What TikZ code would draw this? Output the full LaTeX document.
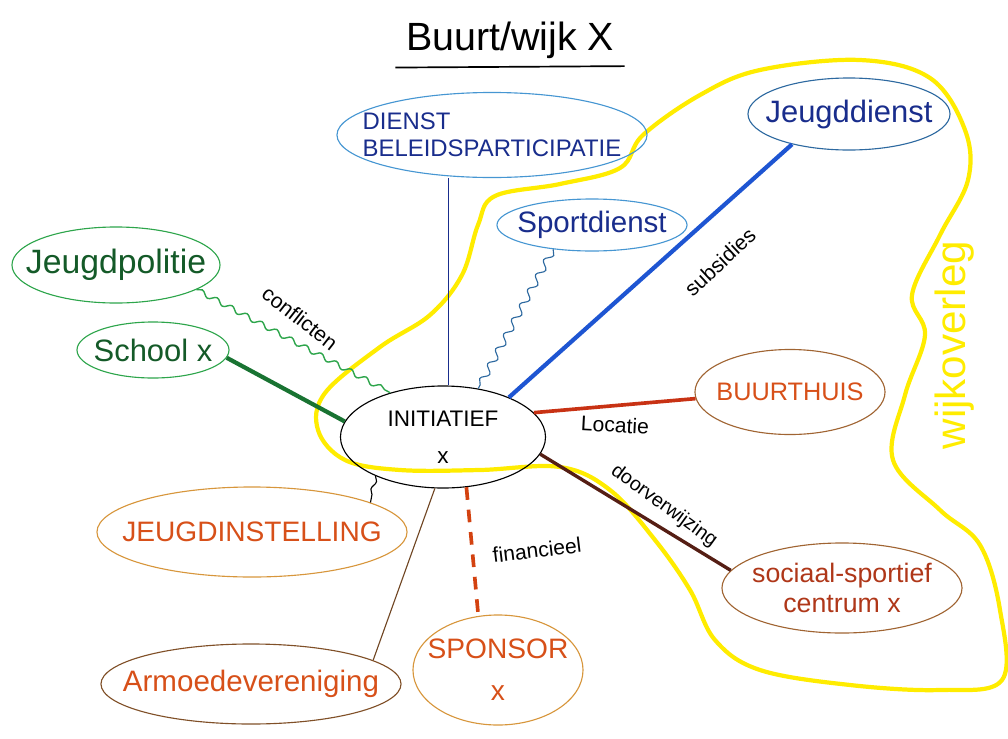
\documentclass[tikz,border=0pt]{standalone}
\usepackage{fontspec}
\setmainfont{Liberation Sans}
\usetikzlibrary{shapes.geometric,decorations.pathmorphing}
\definecolor{dblue}{RGB}{25,45,140}
\definecolor{lblue}{RGB}{70,150,210}
\definecolor{tblue}{RGB}{45,105,160}
\definecolor{bblue}{RGB}{30,85,210}
\definecolor{lgreen}{RGB}{45,165,75}
\definecolor{dgreen}{RGB}{20,90,40}
\definecolor{sgreen}{RGB}{25,115,50}
\definecolor{brownline}{RGB}{160,100,50}
\definecolor{orangetext}{RGB}{215,80,25}
\definecolor{rusttext}{RGB}{175,55,25}
\definecolor{ochre}{RGB}{215,150,60}
\definecolor{darkbrown}{RGB}{85,30,20}
\definecolor{redline}{RGB}{200,50,20}
\definecolor{wijkyellow}{RGB}{255,236,0}

\begin{document}
\begin{tikzpicture}[x=0.025cm,y=-0.025cm,
    bubble/.style={ellipse, draw, line width=0.8pt, inner xsep=-60pt, inner ysep=-20pt, align=center},
    lbl/.style={font=\fontsize{15}{17}\selectfont},
    wiggle/.style={decorate, decoration={snake, amplitude=#1, segment length=12pt}}]
	  \useasboundingbox (0,0) rectangle (1008,738);
	  % Wijk border
	  \draw [wijkyellow, line width=3pt] plot [smooth cycle, tension=0.6] coordinates {
	    (643,135) (700,95) (760,70) (860,60) (930,78) (965,130) (968,180) (940,235)
	    (912,295) (925,335) (905,395) (893,460) (940,510) (980,545) (1000,610)
	    (1002,680) (940,690) (850,685) (760,670) (715,640) (690,590) (655,540)
	    (610,490) (560,467) (480,470) (400,470) (345,460) (318,430) (325,393)
	    (380,347) (430,315) (462,275) (478,225) (495,196) (560,184) (620,168)};
	  \node [wijkyellow, rotate=90, font=\fontsize{30}{32}\selectfont] (wijk) at (955,345) {wijkoverleg};
	  % Title
	  \node [font=\fontsize{28}{30}\selectfont] (title) at (510,40) {Buurt/wijk X};
	  \draw [line width=1.2pt] ([xshift=-4pt,yshift=-3pt]title.south west) -- ([xshift=4pt,yshift=-2pt]title.south east);
	  % Bubbles
	  \node [bubble, draw=lblue, text=dblue, minimum width=7.75cm, minimum height=2.125cm, align=left,
	    font=\fontsize{17}{19}\selectfont] (dienst) at (492,135) {DIENST\\BELEIDSPARTICIPATIE};
	  \node [bubble, draw=tblue, text=dblue, minimum width=5.05cm, minimum height=1.8cm,
	    font=\fontsize{22}{24}\selectfont] (jeugddienst) at (849,114) {Jeugddienst};
	  \node [bubble, draw=lblue, text=dblue, minimum width=4.75cm, minimum height=1.3cm,
	    font=\fontsize{21}{23}\selectfont] (sportdienst) at (592,225) {Sportdienst};
	  \node [bubble, draw=lgreen, text=dgreen, minimum width=5.2cm, minimum height=1.9cm,
	    font=\fontsize{24}{26}\selectfont] (jeugdpolitie) at (116,265) {Jeugdpolitie};
	  \node [bubble, draw=lgreen, text=dgreen, minimum width=3.8cm, minimum height=1.4cm,
	    font=\fontsize{22}{24}\selectfont] (school) at (153,350) {School x};
	  \node [bubble, draw=black, minimum width=5.125cm, minimum height=2.55cm,
	    font=\fontsize{16}{26}\selectfont] (initiatief) at (443,437) {INITIATIEF\\x};
	  \node [bubble, draw=brownline, text=orangetext, minimum width=4.75cm, minimum height=2.125cm,
	    font=\fontsize{18}{20}\selectfont] (buurthuis) at (790,392) {BUURTHUIS};
	  \node [bubble, draw=brownline, text=rusttext, minimum width=6cm, minimum height=2.25cm,
	    font=\fontsize{19}{21}\selectfont] (centrum) at (842,588) {sociaal-sportief\\centrum x};
	  \node [bubble, draw=ochre, text=orangetext, minimum width=7.75cm, minimum height=2.25cm,
	    font=\fontsize{20}{22}\selectfont] (jeugdinstelling) at (252,532) {JEUGDINSTELLING};
	  \node [bubble, draw=brownline!80!black, text=orangetext, minimum width=7.5cm, minimum height=2cm,
	    font=\fontsize{21}{23}\selectfont] (armoede) at (251,684) {Armoedevereniging};
	  \node [bubble, draw=ochre, text=orangetext, minimum width=4.25cm, minimum height=2.75cm,
	    font=\fontsize{20}{30}\selectfont] (sponsor) at (498,670) {SPONSOR\\x};
	  % Links
	  \draw [dblue, line width=0.8pt] ([xshift=4pt]initiatief.north) -- ([xshift=4pt]initiatief.north |- dienst.south);
	  \draw [tblue, line width=0.8pt, wiggle=2.5pt] (sportdienst.212) -- (initiatief.54);
	  \draw [bblue, line width=3pt] (jeugddienst.208) -- (initiatief.31);
	  \draw [lgreen, line width=1pt, wiggle=1.8pt] (jeugdpolitie.-17) -- (initiatief.140);
	  \draw [sgreen, line width=3pt] (school.-6) -- (initiatief.171);
	  \draw [redline, line width=2.6pt] (initiatief.15) -- (buurthuis.184);
	  \draw [darkbrown, line width=2.4pt] (initiatief.-10) -- (centrum.171);
	  \draw [redline!80!orange, line width=2.6pt, dash pattern=on 9pt off 7pt] (initiatief.-65) -- (sponsor.110);
	  \draw [brownline!70!black, line width=0.8pt] (initiatief.-99) -- (armoede.11);
	  \draw [black, line width=0.8pt, wiggle=1.5pt] (initiatief.-150) -- (jeugdinstelling.14);
	  % Edge labels
	  \node [lbl, rotate=-38] (lconflict) at (300,318) {conflicten};
	  \node [lbl, rotate=43] (lsubsidie) at (720,262) {subsidies};
	  \node [lbl, rotate=-3] (llocatie) at (615,425) {Locatie};
	  \node [lbl, rotate=-36, font=\fontsize{14}{16}\selectfont] (lverwijs) at (664,506) {doorverwijzing};
	  \node [lbl, rotate=7] (lfinance) at (537,550) {financieel};
	 \end{tikzpicture}
\end{document}
